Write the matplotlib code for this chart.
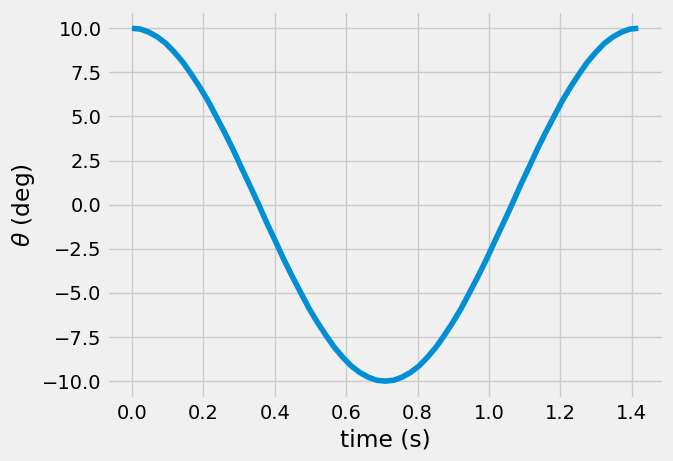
import matplotlib
matplotlib.use('Agg')
import matplotlib.pyplot as plt

plt.style.use('fivethirtyeight')

# pendulum angle over one period
t = [0.000, 0.024, 0.047, 0.071, 0.095, 0.118, 0.142, 0.165, 0.189, 0.213,
     0.236, 0.260, 0.284, 0.307, 0.331, 0.355, 0.378, 0.402, 0.425, 0.449,
     0.473, 0.496, 0.520, 0.544, 0.567, 0.591, 0.614, 0.638, 0.662, 0.685,
     0.709, 0.733, 0.756, 0.780, 0.804, 0.827, 0.851, 0.874, 0.898, 0.922,
     0.945, 0.969, 0.993, 1.016, 1.040, 1.064, 1.087, 1.111, 1.134, 1.158,
     1.182, 1.205, 1.229, 1.253, 1.276, 1.300, 1.323, 1.347, 1.371, 1.394,
     1.418]
theta = [10.00, 9.95, 9.78, 9.51, 9.14, 8.66, 8.09, 7.43, 6.69, 5.88,
         5.00, 4.07, 3.09, 2.08, 1.05, 0.00, -1.05, -2.08, -3.09, -4.07,
         -5.00, -5.88, -6.69, -7.43, -8.09, -8.66, -9.14, -9.51, -9.78, -9.95,
         -10.00, -9.95, -9.78, -9.51, -9.14, -8.66, -8.09, -7.43, -6.69, -5.88,
         -5.00, -4.07, -3.09, -2.08, -1.05, 0.00, 1.05, 2.08, 3.09, 4.07,
         5.00, 5.88, 6.69, 7.43, 8.09, 8.66, 9.14, 9.51, 9.78, 9.95,
         10.00]

fig = plt.figure(figsize=(6.73, 4.61), dpi=100)
ax = fig.add_subplot(111)
fig.subplots_adjust(left=0.1585, right=0.986, top=0.977, bottom=0.135)

ax.plot(t, theta)
ax.set_xlabel('time (s)')
ax.set_ylabel(r'$\theta$ (deg)')

fig.savefig('out.png', dpi=100, facecolor=fig.get_facecolor())
